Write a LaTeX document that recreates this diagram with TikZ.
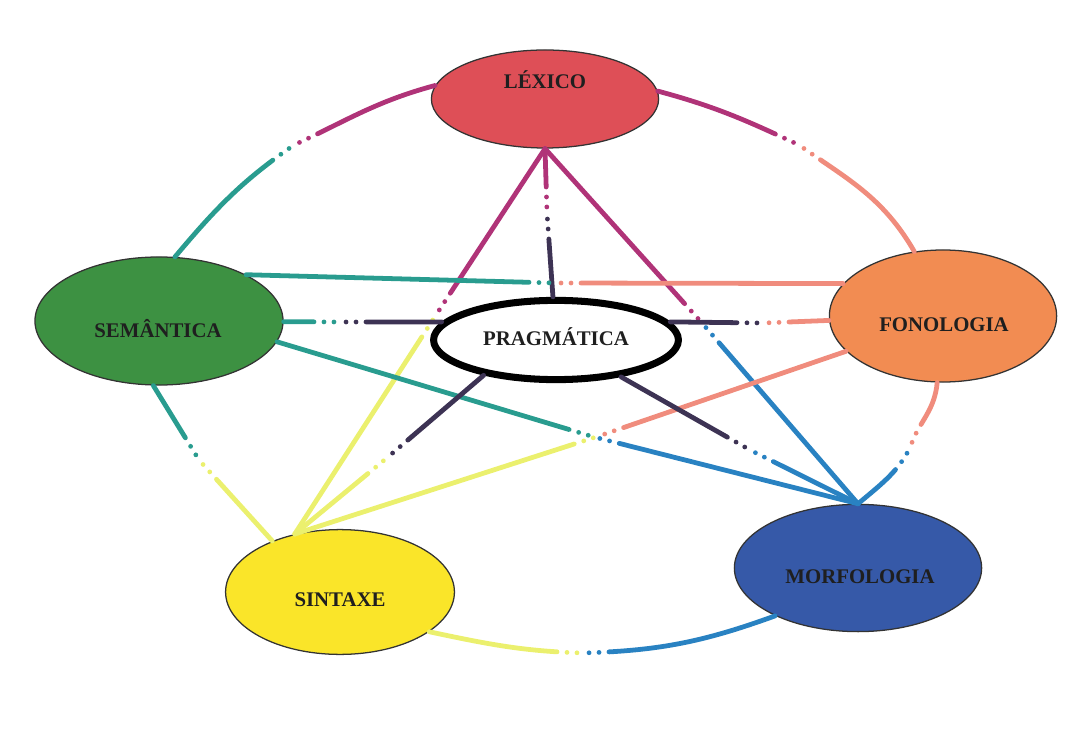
\documentclass[tikz,border=0pt]{standalone}
\usepackage{fontspec}
\setmainfont{Liberation Serif}
\usetikzlibrary{shapes.geometric}

\begin{document}
\begin{tikzpicture}[line cap=round,line join=round,x=0.025cm,y=0.025cm,
  ell/.style={ellipse,draw=black!80,line width=0.9pt},
  lbl/.style={font=\fontsize{14.8}{16}\selectfont\bfseries,text=black!88},
  halfline/.style={line width=3.4pt,shorten <=4.3pt,dash pattern=on 0pt off 7.1pt on 0pt off 7.1pt on 2000pt off 1pt},
  lexline/.style={halfline,draw=lexmag},
  semline/.style={halfline,draw=semteal},
  fonline/.style={halfline,draw=fonsalmon},
  sinline/.style={halfline,draw=sinlight},
  morline/.style={halfline,draw=morblue},
  praline/.style={halfline,draw=pradark}]
\definecolor{lexfill}{rgb}{0.87,0.31,0.34}
\definecolor{semfill}{rgb}{0.24,0.57,0.26}
\definecolor{fonfill}{rgb}{0.95,0.55,0.32}
\definecolor{sinfill}{rgb}{0.98,0.90,0.16}
\definecolor{morfill}{rgb}{0.21,0.35,0.66}
\definecolor{lexmag}{rgb}{0.69,0.20,0.47}
\definecolor{semteal}{rgb}{0.16,0.61,0.56}
\definecolor{fonsalmon}{rgb}{0.94,0.55,0.49}
\definecolor{sinlight}{rgb}{0.92,0.94,0.43}
\definecolor{morblue}{rgb}{0.16,0.51,0.76}
\definecolor{pradark}{rgb}{0.24,0.20,0.33}
\useasboundingbox (0,0) rectangle (1089,731);
\node[ell,fill=lexfill,minimum width=5.68cm,minimum height=2.45cm] (lex) at (545,632) {};
\node[ell,fill=semfill,minimum width=6.2cm,minimum height=3.2cm] (sem) at (159,410) {};
\node[ell,fill=fonfill,minimum width=5.68cm,minimum height=3.3cm] (fon) at (943,415) {};
\node[ell,fill=sinfill,minimum width=5.72cm,minimum height=3.12cm] (sin) at (340,139) {};
\node[ell,fill=morfill,minimum width=6.18cm,minimum height=3.18cm] (mor) at (858,163) {};
\node[ell,fill=white,draw=black,line width=5pt,minimum width=6.12cm,minimum height=1.98cm] (pra) at (556,391) {};
\coordinate (lexsem) at (294,586);
\coordinate (lexfon) at (799,586);
\coordinate (lexpra) at (547,518);
\coordinate (lexsin) at (436,416);
\coordinate (lexmor) at (702,408);
\coordinate (semfon) at (555,448);
\coordinate (sempra) at (340,409);
\coordinate (semsin) at (199,271);
\coordinate (semmor) at (594,294);
\coordinate (fonpra) at (763,408);
\coordinate (fonsin) at (599,295);
\coordinate (fonmor) at (910,283);
\coordinate (prasin) at (388,274);
\coordinate (pramor) at (750,281);
\coordinate (sinmor) at (583,78);
\draw[lexline] (lexsem) to[out=25,in=195] (lex.173);
\draw[semline] (lexsem) to[out=215,in=50] (sem.76);
\draw[lexline] (lexfon) to[out=155,in=345] (lex.4);
\draw[fonline] (lexfon) to[out=-35,in=120] (fon.114);
\draw[lexline] (lexpra) -- (lex.south);
\draw[praline] (lexpra) -- (pra);
\draw[lexline] (lexsin) -- (lex.south);
\draw[sinline] (lexsin) -- (sin.128);
\draw[lexline] (lexmor) -- (lex.south);
\draw[morline] (lexmor) -- (mor.north);
\draw[semline] (semfon) -- (sem.28);
\draw[fonline] (semfon) -- (fon.162);
\draw[semline] (sempra) -- (sem);
\draw[praline] (sempra) -- (pra.171);
\draw[semline] (semsin) -- (sem.265);
\draw[sinline] (semsin) -- (sin.143);
\draw[semline] (semmor) -- (sem.350);
\draw[morline] (semmor) -- (mor.north);
\draw[fonline] (fonpra) -- (fon);
\draw[praline] (fonpra) -- (pra.9);
\draw[fonline] (fonsin) -- (fon.200);
\draw[sinline] (fonsin) -- (sin.128);
\draw[fonline] (fonmor) to[out=70,in=265] (fon.265);
\draw[morline] (fonmor) to[out=240,in=40] (mor.north);
\draw[praline] (prasin) -- (pra.206);
\draw[sinline] (prasin) -- (sin.128);
\draw[praline] (pramor) -- (pra);
\draw[morline] (pramor) -- (mor.north);
\draw[sinline] (sinmor) to[out=178,in=348] (sin.336);
\draw[morline] (sinmor) to[out=2,in=200] (mor.210);
\node[lbl] (lextxt) at (545,651) {LÉXICO};
\node[lbl] (semtxt) at (158,402) {SEMÂNTICA};
\node[lbl] (fontxt) at (944,406) {FONOLOGIA};
\node[lbl] (pratxt) at (556,394) {PRAGMÁTICA};
\node[lbl] (sintxt) at (340,131) {SINTAXE};
\node[lbl] (mortxt) at (860,154) {MORFOLOGIA};
\end{tikzpicture}
\end{document}
